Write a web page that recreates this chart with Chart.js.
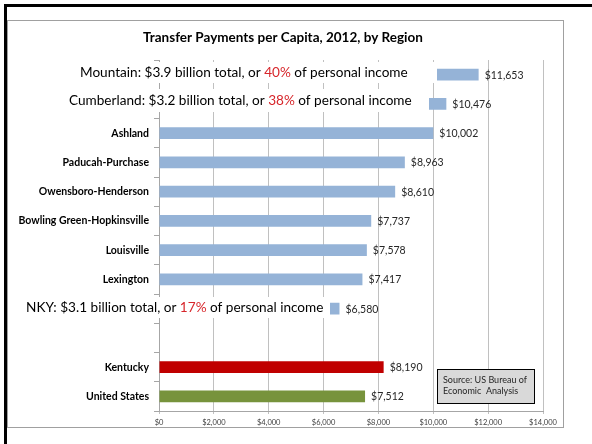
<!DOCTYPE html>
<html><head><meta charset="utf-8">
<script src="https://cdn.jsdelivr.net/npm/chart.js@4/dist/chart.umd.min.js"></script>
<style>html,body{margin:0;padding:0;background:#fff}canvas{display:block}</style>
</head><body>
<canvas id="c" width="592" height="444"></canvas>
<script>
// ---- data ----
const chartTitle = 'Transfer Payments per Capita, 2012, by Region';
const regions = ['Mountain','Cumberland','Ashland','Paducah-Purchase','Owensboro-Henderson','Bowling Green-Hopkinsville','Louisville','Lexington','NKY','','Kentucky','United States'];
const transferPerCapita = [11653,10476,10002,8963,8610,7737,7578,7417,6580,null,8190,7512];
const xTickValues = [0,2000,4000,6000,8000,10000,12000,14000];
const noteRegions = ['Mountain','Cumberland','NKY'];
const noteTotals = ['$3.9','$3.2','$3.1'];
const noteShares = ['40%','38%','17%'];
const sourceLines = ['Source: US Bureau of','Economic  Analysis'];

// ---- styles / layout ----
const FONT = 'Lato, Carlito, "Liberation Sans", sans-serif';
const BLUE = '#95b3d7', RED = '#c00000', GREEN = '#77933c';
const barColors = regions.map(r => r === 'Kentucky' ? RED : (r === 'United States' ? GREEN : BLUE));
const noteLayout = {
  'Mountain':   {x: 80, dy: -2.5, top: 62, bottom: 83, right: 437},
  'Cumberland': {x: 69, dy: -3.5, top: 89, bottom: 112, right: 429},
  'NKY':        {x: 26, dy: -1.5, top: 297, bottom: 318, right: 330}
};

const fmt = v => '$' + Number(v).toLocaleString('en-US');

const decor = {
  id: 'decor',
  beforeDraw(chart) {
    const ctx = chart.ctx;
    ctx.save();
    ctx.fillStyle = '#fff';
    ctx.fillRect(0, 0, chart.width, chart.height);
    // outer black frame (top + left)
    ctx.fillStyle = '#000';
    ctx.fillRect(4, 4, 588, 3);
    ctx.fillRect(4, 4, 3, 440);
    // chart border
    ctx.strokeStyle = '#a0a0a0';
    ctx.lineWidth = 1;
    ctx.strokeRect(7.5, 20.5, 556, 407);
    // title
    ctx.fillStyle = '#000';
    ctx.font = 'bold 13.5px ' + FONT;
    ctx.textAlign = 'center';
    ctx.textBaseline = 'middle';
    ctx.fillText(chartTitle, 283, 38);
    ctx.restore();
  },
  afterDatasetsDraw(chart) {
    const ctx = chart.ctx;
    const meta = chart.getDatasetMeta(0);
    const yScale = chart.scales.y;
    ctx.save();
    // annotation boxes with text
    noteRegions.forEach((r, k) => {
      const idx = regions.indexOf(r);
      const L = noteLayout[r];
      const cy = yScale.getPixelForValue(idx) + L.dy;
      ctx.fillStyle = '#fff';
      ctx.fillRect(L.x - 4, L.top, L.right - (L.x - 4), L.bottom - L.top);
      ctx.font = '13.6px ' + FONT;
      ctx.textAlign = 'left';
      ctx.textBaseline = 'middle';
      const parts = [
        [r + ': ' + noteTotals[k] + ' billion total, or ', '#000'],
        [noteShares[k], '#d7262b'],
        [' of personal income', '#000']
      ];
      let x = L.x;
      parts.forEach(([t, c]) => {
        ctx.fillStyle = c;
        ctx.fillText(t, x, cy);
        x += ctx.measureText(t).width;
      });
    });
    // value labels
    ctx.font = '10.5px ' + FONT;
    ctx.fillStyle = '#262626';
    ctx.textAlign = 'left';
    ctx.textBaseline = 'middle';
    meta.data.forEach((el, i) => {
      const v = transferPerCapita[i];
      if (v == null) return;
      ctx.fillText(fmt(v), el.x + 6, el.y + 0.5);
    });
    // source box
    ctx.fillStyle = '#d9d9d9';
    ctx.fillRect(437, 369, 97, 34);
    ctx.strokeStyle = '#000';
    ctx.lineWidth = 1;
    ctx.strokeRect(437.5, 369.5, 97, 34);
    ctx.fillStyle = '#262626';
    ctx.font = '9px ' + FONT;
    ctx.fillText(sourceLines[0], 443, 380);
    ctx.fillText(sourceLines[1], 443, 391);
    ctx.restore();
  }
};

new Chart(document.getElementById('c'), {
  type: 'bar',
  data: {
    labels: regions,
    datasets: [{
      data: transferPerCapita,
      backgroundColor: barColors,
      barPercentage: 0.41,
      categoryPercentage: 1
    }]
  },
  options: {
    indexAxis: 'y',
    responsive: false,
    animation: false,
    devicePixelRatio: 1,
    layout: {padding: {top: 60, right: 49, left: 0, bottom: 0}},
    plugins: {legend: {display: false}, title: {display: false}, tooltip: {enabled: false}},
    scales: {
      x: {
        min: 0, max: 14000,
        afterBuildTicks: s => { s.ticks = xTickValues.map(v => ({value: v})); },
        ticks: {callback: v => fmt(v), font: {family: FONT, size: 7.5}, color: '#404040', padding: 4, maxRotation: 0, autoSkip: false},
        grid: {color: '#c0c0c0', tickLength: 3},
        border: {color: '#a6a6a6'},
        afterFit: s => { s.height = 33; }
      },
      y: {
        grid: {drawOnChartArea: false, offset: true, tickLength: 5, color: '#a6a6a6'},
        border: {color: '#a6a6a6'},
        ticks: {
          autoSkip: false,
          callback: (v, i) => noteRegions.includes(regions[i]) ? '' : regions[i],
          font: {family: FONT, size: 10.5, weight: 'bold'}, color: '#000', padding: 5
        },
        afterFit: s => { s.width = 159; }
      }
    }
  },
  plugins: [decor]
});
</script>
</body></html>
